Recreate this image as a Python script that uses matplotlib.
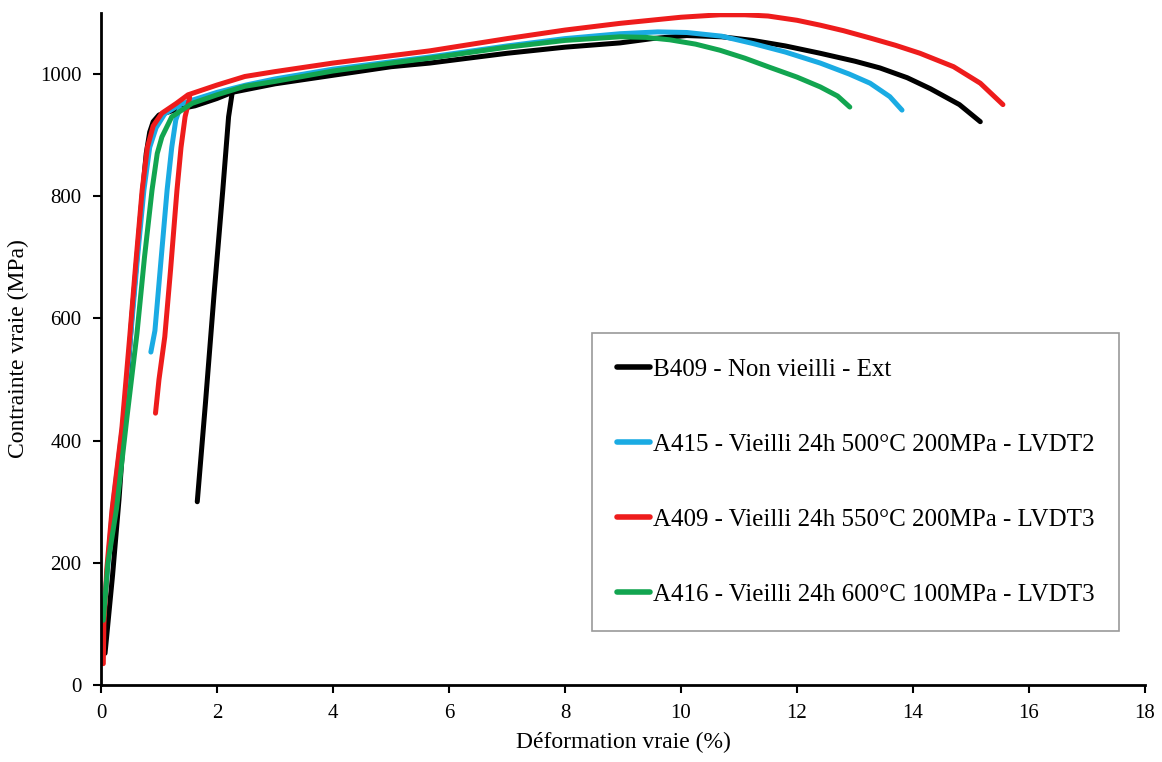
import numpy as np
import matplotlib
matplotlib.use("Agg")
import matplotlib.pyplot as plt

# --- 폰트 ---
plt.rcParams['font.family'] = ['Liberation Serif', 'DejaVu Serif']

# --- 데이터 (Déformation vraie %, Contrainte vraie MPa) ---
b409_x = [0.07, 0.20, 0.31, 0.42, 0.53, 0.62, 0.71, 0.78, 0.84, 0.90, 1.00, 1.30, 1.62,
          2.00, 2.26, 3.00, 4.00, 5.00, 5.67, 6.00, 7.00, 8.00, 8.95, 9.50, 10.10, 10.70,
          11.24, 11.80, 12.40, 13.00, 13.43, 13.90, 14.30, 14.80, 15.16]
b409_y = [52, 180, 303, 450, 600, 700, 800, 870, 905, 922, 933, 942, 948,
          960, 970, 984, 998, 1012, 1018, 1022, 1034, 1044, 1051, 1058, 1063, 1061,
          1055, 1046, 1034, 1021, 1010, 994, 976, 950, 922]
b409_seg_x = [1.66, 1.80, 1.95, 2.10, 2.20, 2.26]
b409_seg_y = [300, 460, 640, 810, 930, 968]

a415_x = [0.05, 0.20, 0.38, 0.52, 0.63, 0.74, 0.84, 0.95, 1.10, 1.36, 1.60, 2.00, 2.50,
          3.00, 4.00, 5.00, 5.67, 7.00, 8.00, 8.95, 9.60, 10.10, 10.70, 11.24, 11.80, 12.40,
          12.90, 13.26, 13.60, 13.81]
a415_y = [120, 290, 430, 580, 700, 810, 880, 912, 935, 950, 958, 970, 982,
          992, 1008, 1020, 1028, 1046, 1058, 1066, 1069, 1068, 1062, 1050, 1036, 1018,
          1000, 985, 963, 941]
a415_seg_x = [0.86, 0.93, 1.03, 1.14, 1.22, 1.29, 1.36]
a415_seg_y = [545, 580, 690, 810, 880, 925, 944]

a409_x = [0.04, 0.05, 0.10, 0.19, 0.36, 0.50, 0.60, 0.71, 0.80, 0.90, 1.05, 1.30, 1.50,
          2.00, 2.48, 3.00, 4.00, 5.00, 5.67, 7.00, 8.00, 8.95, 10.00, 10.67, 11.10, 11.50,
          12.00, 12.40, 12.80, 13.26, 13.70, 14.12, 14.70, 15.16, 15.55]
a409_y = [35, 100, 190, 286, 420, 575, 690, 810, 880, 915, 936, 952, 966,
          982, 996, 1004, 1018, 1030, 1038, 1058, 1072, 1083, 1093, 1097, 1097, 1095,
          1088, 1080, 1071, 1059, 1047, 1034, 1012, 985, 950]
a409_seg_x = [0.94, 1.00, 1.10, 1.20, 1.31, 1.38, 1.45, 1.53]
a409_seg_y = [445, 500, 570, 680, 810, 880, 930, 962]

a416_x = [0.04, 0.12, 0.27, 0.45, 0.62, 0.75, 0.88, 0.97, 1.05, 1.22, 1.57, 2.00, 2.48,
          3.00, 4.00, 5.00, 5.67, 7.00, 8.00, 8.95, 9.40, 9.81, 10.25, 10.67, 11.10, 11.53,
          12.00, 12.40, 12.70, 12.91]
a416_y = [106, 200, 290, 440, 575, 700, 810, 870, 897, 930, 952, 966, 980,
          988, 1005, 1018, 1026, 1044, 1055, 1061, 1060, 1056, 1049, 1039, 1026, 1011,
          995, 979, 964, 946]

labels = ["B409 - Non vieilli - Ext",
          "A415 - Vieilli 24h 500°C 200MPa - LVDT2",
          "A409 - Vieilli 24h 550°C 200MPa - LVDT3",
          "A416 - Vieilli 24h 600°C 100MPa - LVDT3"]
colors = ["#000000", "#1aabe3", "#ee1c1c", "#12a550"]

x_ticks = np.arange(0, 19, 2)
y_ticks = np.arange(0, 1001, 200)

# --- 그래프 ---
fig = plt.figure(figsize=(11.62, 7.62), dpi=100)
ax = fig.add_axes([0.0869, 0.101, 0.8985, 0.882])

lw = 3.6
ax.plot(b409_x, b409_y, color=colors[0], lw=lw, label=labels[0], solid_capstyle='round')
ax.plot(b409_seg_x, b409_seg_y, color=colors[0], lw=lw, solid_capstyle='round')
ax.plot(a415_x, a415_y, color=colors[1], lw=lw, label=labels[1], solid_capstyle='round')
ax.plot(a415_seg_x, a415_seg_y, color=colors[1], lw=lw, solid_capstyle='round')
ax.plot(a409_x, a409_y, color=colors[2], lw=lw, label=labels[2], solid_capstyle='round')
ax.plot(a409_seg_x, a409_seg_y, color=colors[2], lw=lw, solid_capstyle='round')
ax.plot(a416_x, a416_y, color=colors[3], lw=lw, label=labels[3], solid_capstyle='round')

ax.set_xlim(0, 18)
ax.set_ylim(0, 1100)
ax.set_xticks(x_ticks)
ax.set_yticks(y_ticks)
ax.tick_params(labelsize=15, width=1.5, length=6, direction='out', pad=8)

for side in ['top', 'right']:
    ax.spines[side].set_visible(False)
for side in ['left', 'bottom']:
    ax.spines[side].set_linewidth(2)

ax.set_xlabel("Déformation vraie (%)", fontsize=17, labelpad=6)
ax.set_ylabel("Contrainte vraie (MPa)", fontsize=17, labelpad=8)

leg = ax.legend(loc='center', bbox_to_anchor=(0.723, 0.302), fontsize=18,
                frameon=True, fancybox=False, edgecolor='#808080',
                handlelength=1.3, handletextpad=0.12, labelspacing=2.1,
                borderpad=1.0, borderaxespad=0)
leg.get_frame().set_linewidth(1.2)
for line in leg.get_lines():
    line.set_linewidth(4)

fig.savefig("out.png", dpi=100)
